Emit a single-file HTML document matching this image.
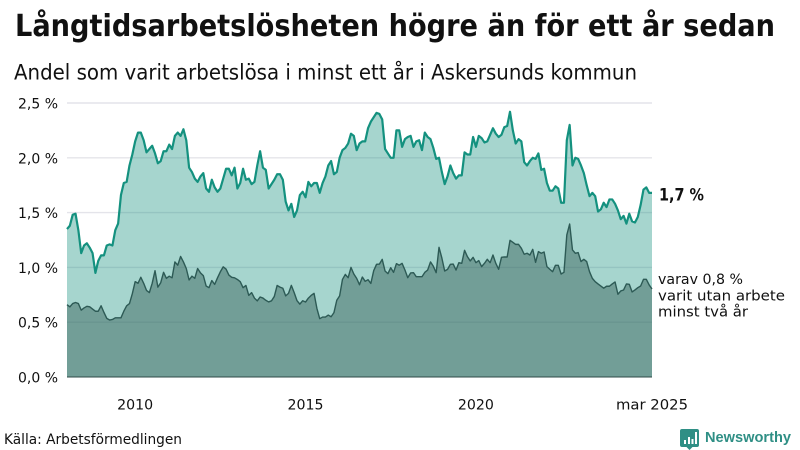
<!DOCTYPE html>
<html lang="sv">
<head>
<meta charset="utf-8">
<title>Långtidsarbetslösheten högre än för ett år sedan</title>
<style>
html,body{margin:0;padding:0;background:#fff;width:800px;height:450px;overflow:hidden}
svg{display:block}
text{font-family:"DejaVu Sans","Liberation Sans",sans-serif;fill:#111}
</style>
</head>
<body>
<svg id="chart" xmlns="http://www.w3.org/2000/svg" width="800" height="450" viewBox="0 0 800 450">
  <text x="15" y="36" font-size="30" font-weight="700" textLength="760" lengthAdjust="spacingAndGlyphs">Långtidsarbetslösheten högre än för ett år sedan</text>
  <text x="14" y="79.500" font-size="21" textLength="623" lengthAdjust="spacingAndGlyphs">Andel som varit arbetslösa i minst ett år i Askersunds kommun</text>
  <g id="grid"></g>
  <g id="marks"></g>
  <g id="yaxis"></g>
  <g id="xaxis"></g>
  <text x="659" y="200.500" font-size="16.500" font-weight="700" textLength="45" lengthAdjust="spacingAndGlyphs">1,7 %</text>
  <text x="658" y="284" font-size="14.500" textLength="85" lengthAdjust="spacingAndGlyphs">varav 0,8 %</text>
  <text x="658" y="300.500" font-size="14.500" textLength="127" lengthAdjust="spacingAndGlyphs">varit utan arbete</text>
  <text x="658" y="316.500" font-size="14.500" textLength="90" lengthAdjust="spacingAndGlyphs">minst två år</text>
  <text x="4" y="444" font-size="14" textLength="178" lengthAdjust="spacingAndGlyphs">Källa: Arbetsförmedlingen</text>
  <g>
    <path d="M682 429h15a2 2 0 0 1 2 2v14a2 2 0 0 1-2 2h-4.500l-3 3-3-3h-4.500a2 2 0 0 1-2-2v-14a2 2 0 0 1 2-2z" fill="#2f8f85"/>
    <rect x="684" y="440" width="2" height="4" fill="#fff"/>
    <rect x="688" y="437" width="2" height="7" fill="#fff"/>
    <rect x="691.500" y="439" width="2" height="5" fill="#fff"/>
    <rect x="695" y="432" width="2" height="12" fill="#fff"/>
    <text x="705" y="442" font-size="15" font-weight="700" textLength="86" lengthAdjust="spacingAndGlyphs" style="fill:#2f8f85;font-family:'Liberation Sans',sans-serif">Newsworthy</text>
  </g>
</svg>
<script>
const startYear = 2008;
const yTicks = [0, 0.5, 1, 1.5, 2, 2.5];
const yTickLabels = ["0,0 %", "0,5 %", "1,0 %", "1,5 %", "2,0 %", "2,5 %"];
const xTickMonths = [24, 84, 144, 206];
const xTickLabels = ["2010", "2015", "2020", "mar 2025"];
const longTermShare = [
1.35,1.38,1.48,1.49,1.34,1.13,1.20,1.22,1.18,1.13,0.95,1.06,1.11,1.11,1.20,1.21,1.20,1.34,1.40,1.66,1.77,1.78,1.93,2.03,2.15,2.23,2.23,2.16,2.05,2.08,
2.11,2.04,1.95,1.97,2.06,2.06,2.12,2.08,2.20,2.23,2.20,2.26,2.16,1.91,1.87,1.81,1.78,1.83,1.86,1.72,1.69,1.80,1.73,1.69,1.72,1.81,1.90,1.90,1.84,1.91,
1.72,1.77,1.90,1.80,1.81,1.76,1.78,1.93,2.06,1.91,1.89,1.72,1.76,1.80,1.85,1.85,1.80,1.60,1.52,1.58,1.46,1.52,1.66,1.69,1.64,1.78,1.74,1.77,1.77,1.68,
1.77,1.83,1.93,1.97,1.85,1.87,2.00,2.07,2.09,2.13,2.22,2.20,2.07,2.13,2.15,2.15,2.27,2.33,2.37,2.41,2.40,2.35,2.08,2.04,2.00,2.00,2.25,2.25,2.10,2.17,
2.19,2.20,2.10,2.15,2.16,2.07,2.23,2.19,2.17,2.09,1.99,2.00,1.87,1.76,1.83,1.93,1.86,1.81,1.84,1.84,2.05,2.03,2.03,2.19,2.10,2.20,2.18,2.14,2.15,2.21,
2.27,2.22,2.19,2.21,2.28,2.29,2.42,2.25,2.13,2.17,2.15,1.96,1.93,1.97,2.00,1.99,2.04,1.89,1.90,1.77,1.70,1.70,1.74,1.72,1.59,1.59,2.16,2.30,1.93,2.00,
1.99,1.93,1.86,1.75,1.65,1.68,1.65,1.51,1.53,1.59,1.55,1.62,1.62,1.58,1.52,1.44,1.47,1.40,1.49,1.42,1.41,1.46,1.57,1.71,1.73,1.68,1.68];
const overTwoYearsShare = [
0.66,0.64,0.67,0.68,0.67,0.61,0.63,0.645,0.64,0.62,0.60,0.60,0.65,0.59,0.535,0.52,0.525,0.54,0.54,0.54,0.60,0.65,0.67,0.76,0.87,0.855,0.91,0.855,0.79,0.77,
0.855,0.97,0.82,0.86,0.955,0.90,0.92,0.905,1.05,1.02,1.10,1.05,0.99,0.885,0.92,0.90,0.99,0.95,0.925,0.83,0.815,0.88,0.845,0.905,0.96,1.005,0.985,0.93,0.91,0.905,
0.89,0.87,0.815,0.835,0.745,0.77,0.72,0.695,0.73,0.72,0.70,0.685,0.695,0.735,0.835,0.82,0.81,0.74,0.763,0.836,0.77,0.696,0.665,0.696,0.684,0.72,0.745,0.763,0.626,0.532,
0.547,0.547,0.565,0.55,0.587,0.70,0.74,0.89,0.936,0.906,1.00,0.94,0.90,0.842,0.912,0.873,0.888,0.854,0.97,1.028,1.03,1.073,0.967,0.943,0.997,0.955,1.034,1.02,1.037,0.976,
0.906,0.949,0.952,0.915,0.915,0.915,0.955,0.976,1.05,1.01,0.952,1.183,1.086,0.967,0.982,1.028,1.03,0.976,1.043,1.037,1.156,1.098,1.059,1.092,1.043,1.062,1.007,1.037,1.074,1.043,
1.113,1.037,0.983,1.092,1.095,1.095,1.247,1.229,1.21,1.21,1.174,1.12,1.129,1.113,1.165,1.046,1.144,1.129,1.141,1.007,0.983,0.961,1.019,1.019,0.94,0.955,1.296,1.396,1.159,1.129,
1.135,1.053,1.074,1.053,0.961,0.90,0.87,0.849,0.83,0.81,0.828,0.828,0.849,0.867,0.755,0.785,0.794,0.849,0.846,0.776,0.794,0.815,0.83,0.891,0.891,0.84,0.803];

const NS = "http://www.w3.org/2000/svg";
const plotLeft = 67, plotRight = 652, plotTop = 103, plotBottom = 377;
const monthCount = longTermShare.length - 1;
function xScale(month) { return plotLeft + (plotRight - plotLeft) * month / monthCount; }
function yScale(value) { return plotBottom - (plotBottom - plotTop) * value / 2.5; }
function make(tag, attrs, parent) {
  const el = document.createElementNS(NS, tag);
  for (const k in attrs) el.setAttribute(k, attrs[k]);
  parent.appendChild(el);
  return el;
}
function linePoints(series) {
  return series.map((v, i) => xScale(i).toFixed(2) + "," + yScale(v).toFixed(2)).join(" ");
}
function areaPoints(series) {
  return xScale(0) + "," + yScale(0) + " " + linePoints(series) + " " + xScale(series.length - 1) + "," + yScale(0);
}
const gridGroup = document.getElementById("grid");
const yGroup = document.getElementById("yaxis");
const xGroup = document.getElementById("xaxis");
const marks = document.getElementById("marks");

yTicks.forEach((tick, i) => {
  if (tick !== 0) {
    const gl = make("line", {x1: plotLeft, x2: plotRight, y1: yScale(tick), y2: yScale(tick), stroke: "#e4e4ea", "stroke-width": 1.4}, gridGroup);
    
    
  }
  const t = make("text", {x: 18, y: yScale(tick) + 5.5, "font-size": 14.5, textLength: 40, lengthAdjust: "spacingAndGlyphs"}, yGroup);
  t.textContent = yTickLabels[i];
  
  
});
xTickMonths.forEach((month, i) => {
  const label = xTickLabels[i];
  const t = make("text", {x: xScale(month), y: 409.5, "font-size": 14.5, "text-anchor": "middle", textLength: label.length > 4 ? 72 : 36, lengthAdjust: "spacingAndGlyphs"}, xGroup);
  t.textContent = label;
  
  
});

const areaTotal = make("polygon", {points: areaPoints(longTermShare), fill: "#14917f", "fill-opacity": 0.38}, marks);


const areaSub = make("polygon", {points: areaPoints(overTwoYearsShare), fill: "#325a55", "fill-opacity": 0.45}, marks);


const lineTotal = make("polyline", {points: linePoints(longTermShare), fill: "none", stroke: "#14917f", "stroke-width": 2.2, "stroke-linejoin": "round"}, marks);


const lineSub = make("polyline", {points: linePoints(overTwoYearsShare), fill: "none", stroke: "#2d5a55", "stroke-width": 1.4, "stroke-linejoin": "round"}, marks);


const baseline = make("line", {x1: plotLeft, x2: plotRight, y1: yScale(0), y2: yScale(0), stroke: "#2d4a47", "stroke-width": 1}, marks);


</script>
</body>
</html>
